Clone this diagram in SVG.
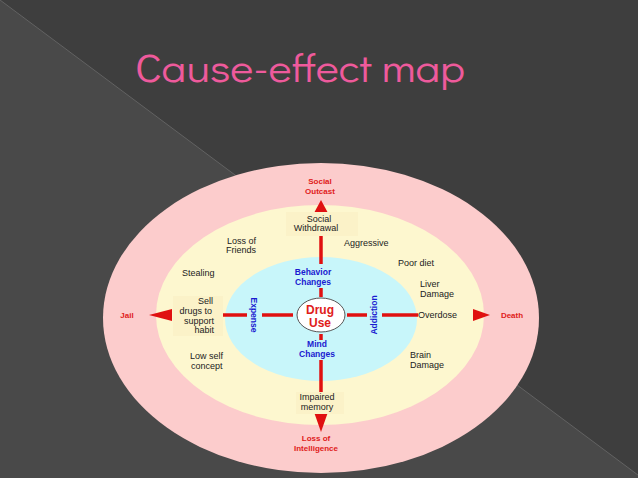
<svg xmlns="http://www.w3.org/2000/svg" width="638" height="478" viewBox="0 0 638 478">
<style>
.t{font-family:"Liberation Sans",Arial,sans-serif;font-size:9px;fill:#222;}
.r{font-family:"Liberation Sans",Arial,sans-serif;font-size:8px;font-weight:bold;fill:#e0201a;}
.big{font-size:12px;}
.b{font-family:"Liberation Sans",Arial,sans-serif;font-size:8.5px;font-weight:bold;fill:#1a1ad0;}
.ln{stroke:#e01010;stroke-width:3.5;}
.ah{fill:#e01010;}
</style>
<rect width="638" height="478" fill="#3e3e3e"/>
<polygon points="0,0 642,478 0,478" fill="#494949"/>
<line x1="0" y1="0" x2="642" y2="478" stroke="#6a6a6a" stroke-width="0.8"/>
<text x="300" y="82" font-family="'Didact Gothic',Lato,'Open Sans',sans-serif" font-size="40" fill="#ee5a9c" text-anchor="middle" textLength="330" lengthAdjust="spacingAndGlyphs">Cause-effect map</text>
<g id="rings">
<ellipse cx="321" cy="318" rx="218" ry="155" fill="#fccccc"/>
<ellipse cx="320" cy="315" rx="164" ry="110" fill="#fdf7cf"/>
<ellipse cx="321" cy="319" rx="96" ry="62" fill="#c8f6fa"/>
</g>
<g id="connectors">
<line class="ln" x1="321" y1="264" x2="321" y2="233"/>
<polygon class="ah" points="321,200 314,213 328,213"/>
<line class="ln" x1="321" y1="288" x2="321" y2="297"/>
<line class="ln" x1="222" y1="315" x2="247" y2="315"/>
<line class="ln" x1="262" y1="315" x2="293" y2="315"/>
<polygon class="ah" points="149,315 172,309 172,321"/>
<line class="ln" x1="347" y1="315" x2="367" y2="315"/>
<line class="ln" x1="382" y1="315" x2="418" y2="315"/>
<polygon class="ah" points="490,315 473,309 473,321"/>
<line class="ln" x1="321" y1="334" x2="321" y2="340"/>
<line class="ln" x1="321" y1="360" x2="321" y2="412"/>
<polygon class="ah" points="321,432 314,412 328,412"/>
</g>
<g id="drug"><ellipse cx="321" cy="315" rx="24" ry="17" fill="#fff" stroke="#555" stroke-width="1"/>
<text class="r big" x="320" y="314" text-anchor="middle">Drug</text>
<text class="r big" x="320" y="327" text-anchor="middle">Use</text></g>
<g id="outer" text-anchor="middle">
<text class="r" x="320" y="184">Social</text><text class="r" x="320" y="194">Outcast</text>
<text class="r" x="316" y="441">Loss of</text><text class="r" x="316" y="451">Intelligence</text>
<text class="r" x="127" y="318">Jail</text>
<text class="r" x="512" y="318">Death</text>
</g>
<g id="blue" text-anchor="middle">
<text class="b" x="313" y="275">Behavior</text><text class="b" x="313" y="285">Changes</text>
<text class="b" x="317" y="347">Mind</text><text class="b" x="317" y="357">Changes</text>
<text class="b" transform="translate(251,315) rotate(90)">Expense</text>
<text class="b" transform="translate(377,315) rotate(-90)">Addiction</text>
</g>
<g id="effects" class="t">
<rect x="286" y="212" width="72" height="24" fill="#fbf2c8"/>
<text x="319" y="222" text-anchor="middle">Social</text><text x="316" y="231" text-anchor="middle">Withdrawal</text>
<text x="227" y="244">Loss of</text><text x="226" y="253">Friends</text>
<text x="344" y="246">Aggressive</text>
<text x="398" y="266">Poor diet</text>
<text x="182" y="276">Stealing</text>
<text x="420" y="287">Liver</text><text x="420" y="297">Damage</text>
<rect x="173" y="296" width="50" height="40" fill="#fbf2c8"/>
<text x="213" y="304" text-anchor="end">Sell</text><text x="212" y="314" text-anchor="end">drugs to</text><text x="214" y="324" text-anchor="end">support</text><text x="214" y="333" text-anchor="end">habit</text>
<text x="418" y="318">Overdose</text>
<text x="190" y="359">Low self</text><text x="191" y="369">concept</text>
<text x="410" y="358">Brain</text><text x="410" y="368">Damage</text>
<rect x="296" y="392" width="48" height="22" fill="#fbf2c8"/>
<text x="317" y="400" text-anchor="middle">Impaired</text><text x="317" y="410" text-anchor="middle">memory</text>
</g>
</svg>
